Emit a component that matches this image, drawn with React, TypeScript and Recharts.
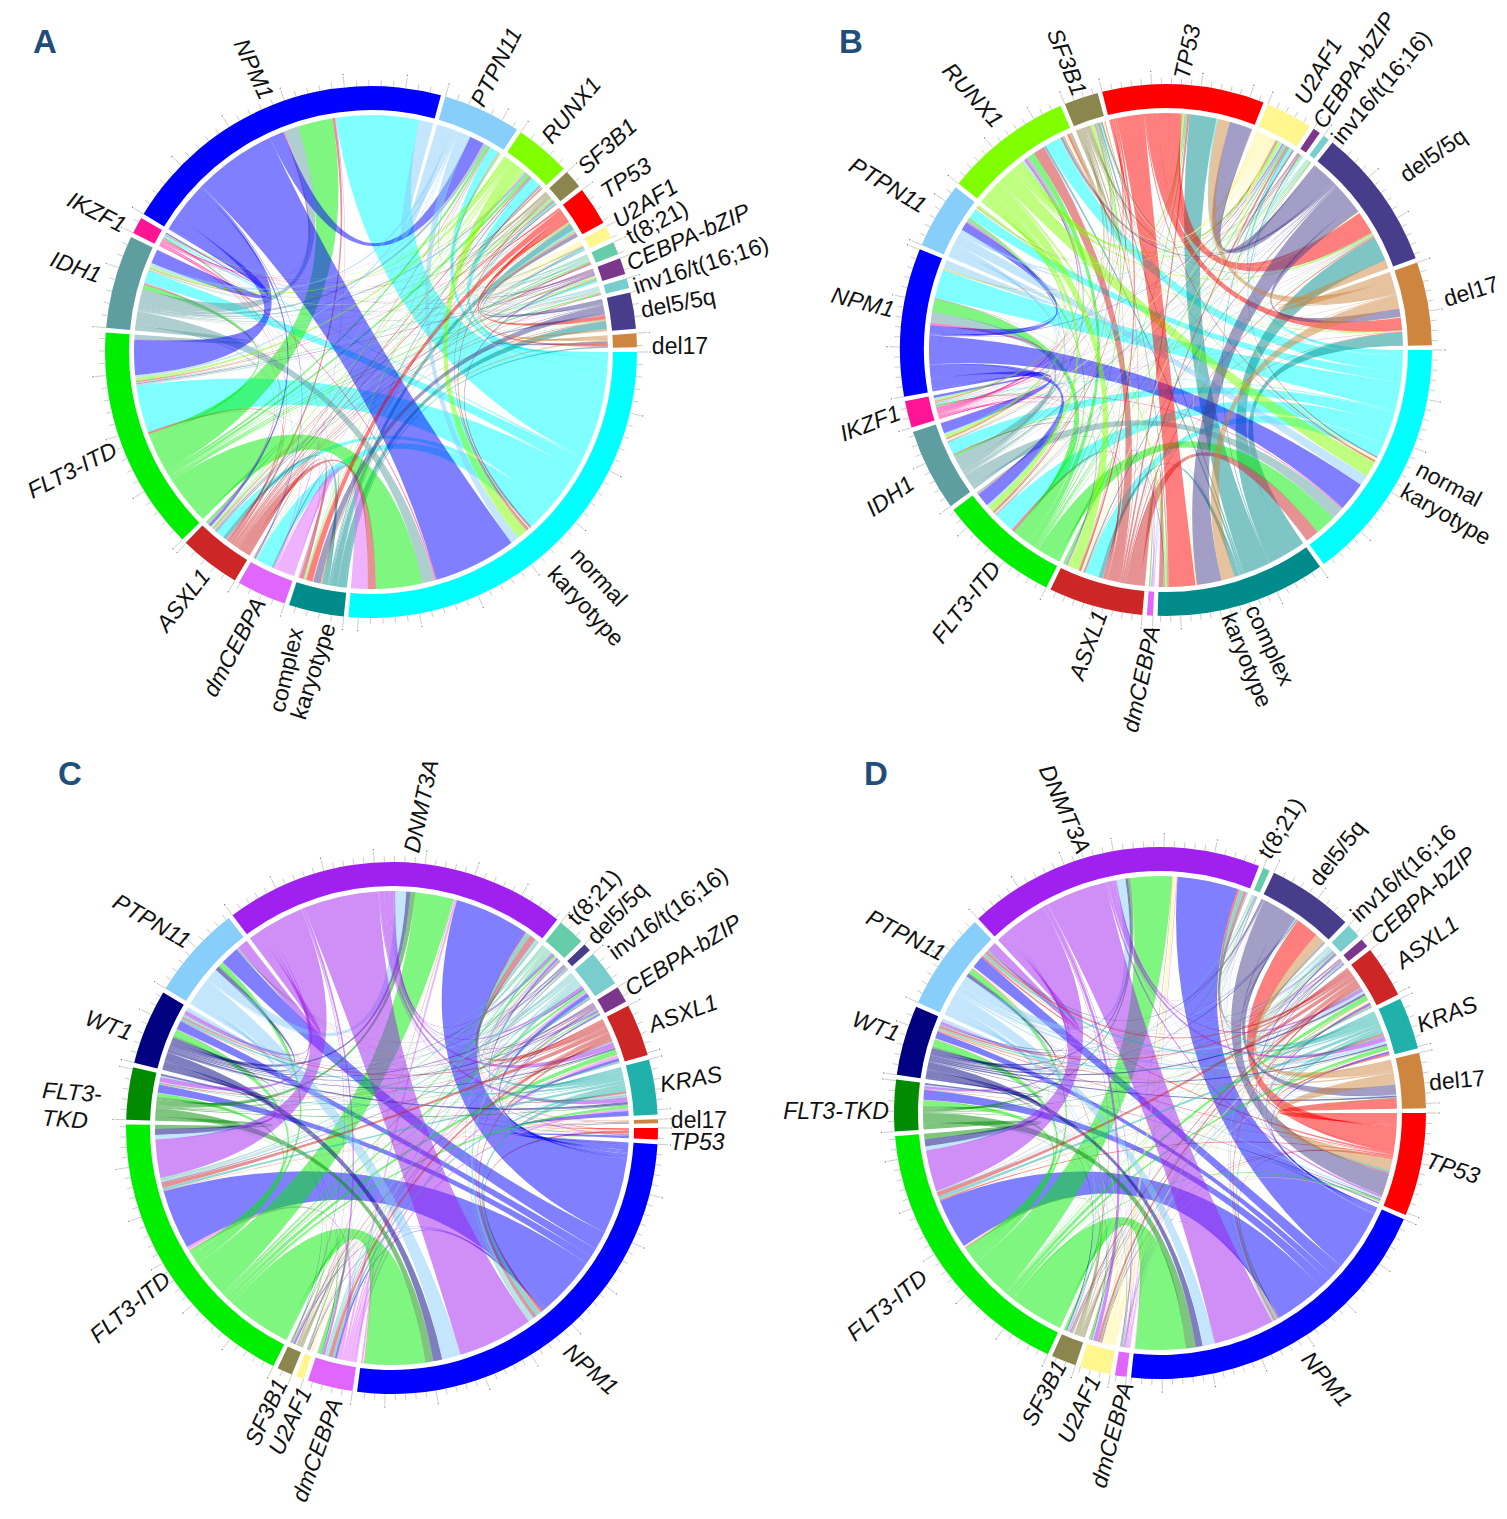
import { PieChart, Pie, Cell, Customized } from 'recharts';

type Link = [string, string, number];
type Label = [string, number, number, number];

const colors: Record<string, string> = {
  normal: '#00FFFF', complex: '#008B8B', dmCEBPA: '#E066FF', ASXL1: '#CD2626', 'FLT3-ITD': '#00EE00',
  IDH1: '#5F9EA0', IKZF1: '#FF1493', NPM1: '#0000FF', PTPN11: '#87CEFA', RUNX1: '#7FFF00',
  SF3B1: '#8B864E', TP53: '#FF0000', U2AF1: '#FFF68F', t821: '#66CDAA', bZIP: '#7A378B',
  inv16: '#79CDCD', del5: '#483D8B', del17: '#CD853F', DNMT3A: '#A020F0', WT1: '#000080',
  TKD: '#008B00', KRAS: '#20B2AA',
};

// clockwise from 3 o'clock
const sectorsA = ['normal', 'complex', 'dmCEBPA', 'ASXL1', 'FLT3-ITD', 'IDH1', 'IKZF1', 'NPM1', 'PTPN11', 'RUNX1', 'SF3B1', 'TP53', 'U2AF1', 't821', 'bZIP', 'inv16', 'del5', 'del17'];
const sectorsB = ['normal', 'complex', 'dmCEBPA', 'ASXL1', 'FLT3-ITD', 'IDH1', 'IKZF1', 'NPM1', 'PTPN11', 'RUNX1', 'SF3B1', 'TP53', 'U2AF1', 'bZIP', 'inv16', 'del5', 'del17'];
const sectorsC = ['TP53', 'NPM1', 'dmCEBPA', 'U2AF1', 'SF3B1', 'FLT3-ITD', 'TKD', 'WT1', 'PTPN11', 'DNMT3A', 't821', 'del5', 'inv16', 'bZIP', 'ASXL1', 'KRAS', 'del17'];
const sectorsD = sectorsC;

const linksA: Link[] = [
  ['normal', 'bZIP', 0.5], ['normal', 'U2AF1', 0.3], ['normal', 'TP53', 0.4], ['normal', 'SF3B1', 0.4],
  ['normal', 'RUNX1', 2.5], ['normal', 'PTPN11', 2], ['normal', 'NPM1', 20], ['normal', 'IKZF1', 0.4],
  ['normal', 'IDH1', 3], ['normal', 'FLT3-ITD', 11.3], ['normal', 'ASXL1', 2], ['normal', 'dmCEBPA', 4],
  ['NPM1', 'IKZF1', 0.3], ['NPM1', 'IDH1', 3.4], ['NPM1', 'FLT3-ITD', 8.5], ['NPM1', 'ASXL1', 0.6],
  ['NPM1', 'dmCEBPA', 0.2], ['NPM1', 'PTPN11', 3.5],
  ['FLT3-ITD', 'ASXL1', 0.5], ['FLT3-ITD', 'complex', 0.1], ['FLT3-ITD', 'TP53', 0.15], ['FLT3-ITD', 'SF3B1', 0.2],
  ['FLT3-ITD', 'RUNX1', 0.7], ['FLT3-ITD', 'PTPN11', 0.6], ['FLT3-ITD', 'IKZF1', 0.15], ['FLT3-ITD', 'IDH1', 1.1],
  ['FLT3-ITD', 't821', 0.3], ['FLT3-ITD', 'bZIP', 0.25], ['FLT3-ITD', 'inv16', 0.3], ['FLT3-ITD', 'del5', 0.05],
  ['IDH1', 'ASXL1', 0.3], ['IDH1', 'dmCEBPA', 0.2], ['IDH1', 'SF3B1', 0.2], ['IDH1', 'RUNX1', 0.5],
  ['IDH1', 'PTPN11', 0.8], ['IDH1', 'IKZF1', 0.1], ['IDH1', 'U2AF1', 0.2], ['IDH1', 'bZIP', 0.1],
  ['IDH1', 'inv16', 0.1], ['IDH1', 'del5', 0.05],
  ['IKZF1', 'RUNX1', 0.15], ['IKZF1', 'PTPN11', 0.1], ['IKZF1', 'ASXL1', 0.2], ['IKZF1', 'TP53', 0.1],
  ['IKZF1', 'complex', 0.1], ['IKZF1', 'bZIP', 0.05], ['IKZF1', 't821', 0.1], ['IKZF1', 'inv16', 0.05],
  ['PTPN11', 'RUNX1', 0.3], ['PTPN11', 'ASXL1', 0.2], ['PTPN11', 'dmCEBPA', 0.1], ['PTPN11', 'SF3B1', 0.1],
  ['PTPN11', 'bZIP', 0.1], ['PTPN11', 'inv16', 0.2], ['PTPN11', 't821', 0.3], ['PTPN11', 'complex', 0.1],
  ['RUNX1', 'SF3B1', 0.3], ['RUNX1', 'TP53', 0.2], ['RUNX1', 'U2AF1', 0.15], ['RUNX1', 'ASXL1', 0.35],
  ['RUNX1', 'complex', 0.3], ['RUNX1', 'dmCEBPA', 0.1], ['RUNX1', 'del5', 0.1], ['RUNX1', 'bZIP', 0.25],
  ['RUNX1', 't821', 0.05], ['RUNX1', 'inv16', 0.05],
  ['SF3B1', 'ASXL1', 0.3], ['SF3B1', 'complex', 0.2], ['SF3B1', 'TP53', 0.1], ['SF3B1', 'del5', 0.2],
  ['TP53', 'complex', 1.5], ['TP53', 'del5', 0.9], ['TP53', 'del17', 0.6], ['TP53', 'ASXL1', 0.1], ['TP53', 'U2AF1', 0.1],
  ['U2AF1', 'complex', 0.15], ['U2AF1', 'ASXL1', 0.1], ['U2AF1', 'del5', 0.1], ['U2AF1', 'bZIP', 0.1],
  ['U2AF1', 't821', 0.05], ['U2AF1', 'inv16', 0.1], ['t821', 'bZIP', 0.15], ['inv16', 'bZIP', 0.05],
  ['complex', 'del5', 1.8], ['complex', 'del17', 0.4], ['complex', 'ASXL1', 0.9], ['complex', 'dmCEBPA', 0.4],
  ['del5', 'del17', 0.5], ['del5', 'ASXL1', 0.2],
  ['ASXL1', 'bZIP', 0.2], ['ASXL1', 't821', 0.3], ['ASXL1', 'inv16', 0.15], ['ASXL1', 'dmCEBPA', 0.2],
  ['dmCEBPA', 't821', 0.1], ['dmCEBPA', 'inv16', 0.05],
];

const linksB: Link[] = [
  ['normal', 'U2AF1', 0.7], ['normal', 'TP53', 0.3], ['normal', 'SF3B1', 0.2], ['normal', 'RUNX1', 3.8],
  ['normal', 'PTPN11', 2.5], ['normal', 'NPM1', 7], ['normal', 'IKZF1', 0.3], ['normal', 'IDH1', 3],
  ['normal', 'FLT3-ITD', 5], ['normal', 'ASXL1', 3.3], ['normal', 'dmCEBPA', 0.1], ['normal', 'bZIP', 0.3],
  ['complex', 'del17', 3.2], ['complex', 'del5', 6], ['complex', 'TP53', 6.5], ['complex', 'U2AF1', 0.3],
  ['complex', 'SF3B1', 0.4], ['complex', 'RUNX1', 0.5], ['complex', 'NPM1', 0.1], ['complex', 'IKZF1', 0.1],
  ['complex', 'IDH1', 0.1], ['complex', 'FLT3-ITD', 0.1], ['complex', 'ASXL1', 1], ['complex', 'dmCEBPA', 0.1],
  ['TP53', 'del17', 3], ['TP53', 'del5', 5.5], ['TP53', 'ASXL1', 0.5], ['TP53', 'FLT3-ITD', 0.3],
  ['TP53', 'RUNX1', 0.5], ['TP53', 'SF3B1', 0.2], ['TP53', 'IDH1', 0.2], ['TP53', 'PTPN11', 0.05],
  ['TP53', 'NPM1', 0.05], ['TP53', 'U2AF1', 0.2], ['TP53', 'IKZF1', 0.1], ['TP53', 'bZIP', 0.1],
  ['del5', 'RUNX1', 0.5], ['del5', 'U2AF1', 0.4], ['del5', 'SF3B1', 0.3], ['del5', 'ASXL1', 0.3],
  ['del5', 'IDH1', 0.1], ['del5', 'FLT3-ITD', 0.1], ['del5', 'NPM1', 0.05], ['del5', 'del17', 2], ['del5', 'IKZF1', 0.1],
  ['del17', 'ASXL1', 0.2], ['del17', 'RUNX1', 0.2], ['del17', 'U2AF1', 0.2], ['del17', 'SF3B1', 0.1], ['del17', 'IKZF1', 0.1],
  ['U2AF1', 'RUNX1', 0.8], ['U2AF1', 'FLT3-ITD', 0.3], ['U2AF1', 'ASXL1', 0.5], ['U2AF1', 'IDH1', 0.5],
  ['U2AF1', 'NPM1', 0.2], ['U2AF1', 'PTPN11', 0.3], ['U2AF1', 'IKZF1', 0.1], ['U2AF1', 'SF3B1', 0.5], ['U2AF1', 'dmCEBPA', 0.05],
  ['RUNX1', 'SF3B1', 0.8], ['RUNX1', 'PTPN11', 0.6], ['RUNX1', 'NPM1', 0.2], ['RUNX1', 'IKZF1', 0.4],
  ['RUNX1', 'IDH1', 0.7], ['RUNX1', 'FLT3-ITD', 1.5], ['RUNX1', 'ASXL1', 2.8], ['RUNX1', 'bZIP', 0.2], ['RUNX1', 'inv16', 0.2], ['RUNX1', 'dmCEBPA', 0.1],
  ['ASXL1', 'FLT3-ITD', 0.6], ['ASXL1', 'IDH1', 0.2], ['ASXL1', 'IKZF1', 0.2], ['ASXL1', 'NPM1', 0.1],
  ['ASXL1', 'PTPN11', 0.1], ['ASXL1', 'SF3B1', 0.2], ['ASXL1', 'inv16', 0.1], ['ASXL1', 'dmCEBPA', 0.1],
  ['FLT3-ITD', 'NPM1', 3.2], ['FLT3-ITD', 'IDH1', 0.5], ['FLT3-ITD', 'PTPN11', 0.5], ['FLT3-ITD', 'IKZF1', 0.2],
  ['FLT3-ITD', 'SF3B1', 0.3], ['FLT3-ITD', 'bZIP', 0.1], ['FLT3-ITD', 'inv16', 0.2], ['FLT3-ITD', 'dmCEBPA', 0.1],
  ['IDH1', 'NPM1', 2.5], ['IDH1', 'PTPN11', 0.5], ['IDH1', 'IKZF1', 0.1], ['IDH1', 'SF3B1', 0.2], ['IDH1', 'bZIP', 0.1], ['IDH1', 'inv16', 0.1], ['IDH1', 'dmCEBPA', 0.1],
  ['IKZF1', 'NPM1', 0.6], ['IKZF1', 'PTPN11', 0.3], ['IKZF1', 'SF3B1', 0.3],
  ['NPM1', 'PTPN11', 2],
  ['PTPN11', 'SF3B1', 0.2], ['PTPN11', 'inv16', 0.1],
];

const linksC: Link[] = [
  ['NPM1', 'DNMT3A', 18.5], ['NPM1', 'PTPN11', 4.6], ['NPM1', 'WT1', 2.2], ['NPM1', 'TKD', 2], ['NPM1', 'FLT3-ITD', 14.7],
  ['NPM1', 'KRAS', 1.2], ['NPM1', 'ASXL1', 0.6], ['NPM1', 'bZIP', 0.3], ['NPM1', 'inv16', 1], ['NPM1', 't821', 0.4],
  ['NPM1', 'del5', 0.05], ['NPM1', 'TP53', 0.6], ['NPM1', 'del17', 0.1], ['NPM1', 'dmCEBPA', 0.5], ['NPM1', 'SF3B1', 0.3], ['NPM1', 'U2AF1', 0.2],
  ['DNMT3A', 'PTPN11', 2.7], ['DNMT3A', 'WT1', 1], ['DNMT3A', 'TKD', 1.2], ['DNMT3A', 'FLT3-ITD', 9.4], ['DNMT3A', 'dmCEBPA', 0.6],
  ['DNMT3A', 'TP53', 0.2], ['DNMT3A', 'KRAS', 1.1], ['DNMT3A', 'ASXL1', 1.3], ['DNMT3A', 'bZIP', 0.3], ['DNMT3A', 'inv16', 0.6],
  ['DNMT3A', 'del5', 0.1], ['DNMT3A', 't821', 0.4], ['DNMT3A', 'SF3B1', 0.2], ['DNMT3A', 'U2AF1', 0.1], ['DNMT3A', 'del17', 0.1],
  ['FLT3-ITD', 'TP53', 0.1], ['FLT3-ITD', 'KRAS', 0.7], ['FLT3-ITD', 'ASXL1', 1.1], ['FLT3-ITD', 'bZIP', 0.3], ['FLT3-ITD', 'inv16', 0.6],
  ['FLT3-ITD', 't821', 0.4], ['FLT3-ITD', 'PTPN11', 1.1], ['FLT3-ITD', 'WT1', 1.5], ['FLT3-ITD', 'TKD', 1], ['FLT3-ITD', 'SF3B1', 0.3],
  ['FLT3-ITD', 'U2AF1', 0.15], ['FLT3-ITD', 'dmCEBPA', 0.8], ['FLT3-ITD', 'del5', 0.1], ['FLT3-ITD', 'del17', 0.05],
  ['TKD', 'WT1', 0.5], ['TKD', 'PTPN11', 0.3], ['TKD', 'ASXL1', 0.2], ['TKD', 'KRAS', 0.2], ['TKD', 'inv16', 0.1], ['TKD', 't821', 0.1], ['TKD', 'bZIP', 0.05], ['TKD', 'dmCEBPA', 0.1],
  ['WT1', 'PTPN11', 1], ['WT1', 'ASXL1', 0.3], ['WT1', 'KRAS', 0.6], ['WT1', 'inv16', 0.3], ['WT1', 't821', 0.2], ['WT1', 'bZIP', 0.2],
  ['WT1', 'TP53', 0.1], ['WT1', 'SF3B1', 0.1], ['WT1', 'dmCEBPA', 0.1], ['WT1', 'U2AF1', 0.05], ['WT1', 'del5', 0.1],
  ['PTPN11', 'ASXL1', 0.1], ['PTPN11', 'KRAS', 0.1], ['PTPN11', 'bZIP', 0.05], ['PTPN11', 'inv16', 0.05], ['PTPN11', 't821', 0.1], ['PTPN11', 'dmCEBPA', 0.1], ['PTPN11', 'del5', 0.1],
  ['ASXL1', 'KRAS', 0.4], ['ASXL1', 'dmCEBPA', 0.8], ['ASXL1', 't821', 0.2], ['ASXL1', 'inv16', 0.1], ['ASXL1', 'bZIP', 0.1],
  ['ASXL1', 'SF3B1', 0.2], ['ASXL1', 'U2AF1', 0.1], ['ASXL1', 'TP53', 0.1], ['ASXL1', 'del17', 0.05], ['ASXL1', 'del5', 0.1],
  ['KRAS', 'dmCEBPA', 0.6], ['KRAS', 'inv16', 0.5], ['KRAS', 't821', 0.3], ['KRAS', 'bZIP', 0.1], ['KRAS', 'TP53', 0.05], ['KRAS', 'del5', 0.1], ['KRAS', 'SF3B1', 0.1],
  ['dmCEBPA', 'inv16', 0.5], ['dmCEBPA', 't821', 0.4], ['dmCEBPA', 'bZIP', 0.2], ['dmCEBPA', 'SF3B1', 0.2], ['dmCEBPA', 'del5', 0.05],
  ['inv16', 'bZIP', 0.1], ['inv16', 't821', 0.1], ['inv16', 'del5', 0.05],
  ['t821', 'bZIP', 0.1], ['t821', 'del5', 0.1], ['t821', 'SF3B1', 0.1], ['t821', 'U2AF1', 0.05], ['t821', 'del17', 0.05],
  ['SF3B1', 'U2AF1', 0.2], ['TP53', 'del17', 0.1],
];

const linksD: Link[] = [
  ['NPM1', 'DNMT3A', 14.8], ['NPM1', 'PTPN11', 3], ['NPM1', 'WT1', 1.7], ['NPM1', 'TKD', 2.4], ['NPM1', 'FLT3-ITD', 12.2],
  ['NPM1', 'ASXL1', 0.4], ['NPM1', 'TP53', 0.3], ['NPM1', 'KRAS', 0.5], ['NPM1', 'del5', 0.05], ['NPM1', 'inv16', 0.3],
  ['NPM1', 'bZIP', 0.2], ['NPM1', 't821', 0.05], ['NPM1', 'dmCEBPA', 0.1], ['NPM1', 'U2AF1', 0.1], ['NPM1', 'SF3B1', 0.05],
  ['DNMT3A', 'PTPN11', 2.2], ['DNMT3A', 'WT1', 0.6], ['DNMT3A', 'TKD', 0.6], ['DNMT3A', 'FLT3-ITD', 10], ['DNMT3A', 'U2AF1', 1],
  ['DNMT3A', 'TP53', 0.5], ['DNMT3A', 'KRAS', 1], ['DNMT3A', 'ASXL1', 0.6], ['DNMT3A', 'del5', 0.1], ['DNMT3A', 'inv16', 0.2],
  ['DNMT3A', 'bZIP', 0.1], ['DNMT3A', 't821', 0.1], ['DNMT3A', 'SF3B1', 0.2], ['DNMT3A', 'del17', 0.1], ['DNMT3A', 'dmCEBPA', 0.2],
  ['FLT3-ITD', 'PTPN11', 1], ['FLT3-ITD', 'WT1', 1.7], ['FLT3-ITD', 'TKD', 1.4], ['FLT3-ITD', 'U2AF1', 0.3], ['FLT3-ITD', 'SF3B1', 0.5],
  ['FLT3-ITD', 'TP53', 0.3], ['FLT3-ITD', 'ASXL1', 1], ['FLT3-ITD', 'KRAS', 0.8], ['FLT3-ITD', 'del17', 0.1], ['FLT3-ITD', 'del5', 0.1],
  ['FLT3-ITD', 'inv16', 0.2], ['FLT3-ITD', 'bZIP', 0.1], ['FLT3-ITD', 't821', 0.05], ['FLT3-ITD', 'dmCEBPA', 0.1],
  ['TKD', 'WT1', 0.4], ['TKD', 'PTPN11', 0.3], ['TKD', 'ASXL1', 0.1], ['TKD', 'KRAS', 0.1], ['TKD', 'TP53', 0.1], ['TKD', 'U2AF1', 0.1], ['TKD', 'SF3B1', 0.1],
  ['WT1', 'PTPN11', 0.8], ['WT1', 'ASXL1', 0.5], ['WT1', 'KRAS', 0.4], ['WT1', 'TP53', 0.2], ['WT1', 'inv16', 0.1], ['WT1', 'del5', 0.2],
  ['WT1', 'del17', 0.4], ['WT1', 'U2AF1', 0.1], ['WT1', 'SF3B1', 0.2], ['WT1', 'dmCEBPA', 0.1], ['WT1', 'bZIP', 0.1], ['WT1', 't821', 0.1],
  ['PTPN11', 'ASXL1', 0.6], ['PTPN11', 'KRAS', 0.7], ['PTPN11', 'TP53', 0.4], ['PTPN11', 'del5', 0.3], ['PTPN11', 'U2AF1', 0.3],
  ['PTPN11', 'SF3B1', 0.4], ['PTPN11', 'del17', 0.2], ['PTPN11', 'inv16', 0.1], ['PTPN11', 'dmCEBPA', 0.1], ['PTPN11', 'bZIP', 0.1], ['PTPN11', 't821', 0.1],
  ['TP53', 'del17', 2.7], ['TP53', 'del5', 5.6], ['TP53', 'ASXL1', 0.3], ['TP53', 'KRAS', 0.4], ['TP53', 'U2AF1', 0.2], ['TP53', 'SF3B1', 0.1], ['TP53', 'inv16', 0.05], ['TP53', 'dmCEBPA', 0.05],
  ['del5', 'del17', 2.3], ['del5', 'ASXL1', 0.3], ['del5', 'KRAS', 0.3], ['del5', 'U2AF1', 0.05], ['del5', 't821', 0.05],
  ['del17', 'ASXL1', 0.1], ['del17', 'KRAS', 0.1],
  ['KRAS', 'ASXL1', 0.5], ['KRAS', 'U2AF1', 0.3], ['KRAS', 'SF3B1', 0.2], ['KRAS', 'bZIP', 0.1], ['KRAS', 'dmCEBPA', 0.1], ['KRAS', 'inv16', 0.1], ['KRAS', 't821', 0.05],
  ['ASXL1', 'SF3B1', 0.3], ['ASXL1', 'U2AF1', 0.6], ['ASXL1', 'inv16', 0.1], ['ASXL1', 'bZIP', 0.1], ['ASXL1', 'dmCEBPA', 0.1], ['ASXL1', 't821', 0.05],
  ['SF3B1', 'U2AF1', 0.3], ['SF3B1', 'dmCEBPA', 0.2], ['SF3B1', 'inv16', 0.1], ['SF3B1', 't821', 0.05],
  ['dmCEBPA', 'inv16', 0.1], ['dmCEBPA', 'bZIP', 0.05], ['dmCEBPA', 't821', 0.05],
  ['inv16', 'bZIP', 0.1], ['inv16', 't821', 0.1],
];

// text, centre x, centre y, rotation
const labelsA: Label[] = [
  ['NPM1', 254, 69, 65], ['PTPN11', 496, 67, -63], ['RUNX1', 571, 110, -50], ['SF3B1', 607, 146, -42],
  ['TP53', 626, 178, -33], ['U2AF1', 645, 203, -32], ['t(8;21)', 657, 222, -28], ['CEBPA-bZIP', 688, 237, -24],
  ['inv16/t(16;16)', 701, 265, -18], ['del5/5q', 678, 303, -11], ['del17', 680, 346, 0],
  ['normal', 599, 577, 47], ['karyotype', 586, 606, 47], ['complex', 286, 670, -77], ['karyotype', 313, 671, -72],
  ['dmCEBPA', 234, 647, -62], ['ASXL1', 183, 600, -52], ['FLT3-ITD', 72, 470, -27], ['IDH1', 76, 267, 20], ['IKZF1', 97, 212, 27],
];
const labelsB: Label[] = [
  ['TP53', 1187, 52, -78], ['U2AF1', 1318, 71, -60], ['CEBPA-bZIP', 1354, 70, -57], ['inv16/t(16;16)', 1381, 87, -50],
  ['del5/5q', 1433, 155, -35], ['del17', 1471, 291, -17], ['normal', 1449, 484, 28], ['karyotype', 1446, 514, 30],
  ['complex', 1270, 645, 65], ['karyotype', 1247, 660, 68], ['dmCEBPA', 1141, 679, -78], ['ASXL1', 1088, 645, -70],
  ['FLT3-ITD', 966, 602, -52], ['IDH1', 890, 496, -35], ['IKZF1', 870, 423, -21], ['NPM1', 863, 302, 14],
  ['PTPN11', 888, 185, 31], ['RUNX1', 973, 95, 48], ['SF3B1', 1067, 62, 68],
];
const labelsC: Label[] = [
  ['DNMT3A', 421, 806, -78], ['t(8;21)', 594, 897, -47], ['del5/5q', 617, 913, -46], ['inv16/t(16;16)', 668, 913, -36],
  ['CEBPA-bZIP', 683, 955, -32], ['ASXL1', 683, 1013, -20], ['KRAS', 691, 1079, -10], ['del17', 699, 1120, 0],
  ['TP53', 697, 1142, 0], ['NPM1', 591, 1369, 42], ['dmCEBPA', 317, 1450, -70], ['U2AF1', 290, 1421, -65],
  ['SF3B1', 266, 1412, -65], ['FLT3-ITD', 130, 1307, -40], ['FLT3-', 72, 1092, 4], ['TKD', 65, 1119, 4],
  ['WT1', 109, 1025, 20], ['PTPN11', 152, 921, 30],
];
const labelsD: Label[] = [
  ['DNMT3A', 1065, 809, 66], ['t(8;21)', 1281, 828, -58], ['del5/5q', 1337, 853, -52], ['inv16/t(16;16', 1403, 873, -42],
  ['CEBPA-bZIP', 1423, 895, -42], ['ASXL1', 1427, 942, -36], ['KRAS', 1447, 1014, -21], ['del17', 1457, 1080, -5],
  ['TP53', 1453, 1168, 18], ['NPM1', 1327, 1379, 50], ['dmCEBPA', 1112, 1435, -75], ['U2AF1', 1079, 1409, -65],
  ['SF3B1', 1044, 1393, -62], ['FLT3-ITD', 887, 1305, -40], ['FLT3-TKD', 836, 1111, 0], ['WT1', 876, 1026, 20], ['PTPN11', 906, 935, 27],
];

const panels = [
  { letter: 'A', lx: 45, ly: 41, cx: 371, cy: 352, tickDeg: 2.65, sectors: sectorsA, links: linksA, labels: labelsA },
  { letter: 'B', lx: 851, ly: 41, cx: 1166, cy: 350, tickDeg: 2.15, sectors: sectorsB, links: linksB, labels: labelsB },
  { letter: 'C', lx: 70, ly: 773, cx: 392, cy: 1128, tickDeg: 2.2, sectors: sectorsC, links: linksC, labels: labelsC },
  { letter: 'D', lx: 876, ly: 773, cx: 1160, cy: 1113, tickDeg: 2.2, sectors: sectorsD, links: linksD, labels: labelsD },
];

const plainLabels = ['del17', 'del5/5q', 'inv16/t(16;16)', 'inv16/t(16;16', 't(8;21)', 'normal', 'karyotype', 'complex'];

const OUTER = 266;
const INNER = 242;
const LINK_R = 237;
const PAD = 1;

const rad = (d: number) => (d * Math.PI) / 180;

function sectorValues(sectors: string[], links: Link[]) {
  return sectors.map((s) => links.reduce((t, l) => t + (l[0] === s || l[1] === s ? 2 * l[2] : 0), 0));
}

function layout(sectors: string[], links: Link[]) {
  const values = sectorValues(sectors, links);
  const total = values.reduce((a, b) => a + b, 0);
  const scale = (360 - sectors.length * PAD) / total;
  const n = sectors.length;
  const weight = (a: string, b: string) =>
    links.reduce((t, l) => t + ((l[0] === a && l[1] === b) || (l[0] === b && l[1] === a) ? l[2] : 0), 0);

  const arcs: { start: number; end: number }[] = [];
  let pos = 0;
  values.forEach((v) => {
    arcs.push({ start: pos, end: pos + v * scale });
    pos += v * scale + PAD;
  });

  // every sector: own ribbons first, then the incoming ones, partners walking back counter-clockwise
  const outSlot: Record<string, [number, number]> = {};
  const inSlot: Record<string, [number, number]> = {};
  sectors.forEach((s, i) => {
    let cur = arcs[i].start;
    for (const slots of [outSlot, inSlot]) {
      for (let k = 1; k < n; k++) {
        const other = sectors[(i - k + n) % n];
        const w = weight(s, other) * scale;
        if (w > 0) {
          slots[s + '|' + other] = [cur, cur + w];
          cur += w;
        }
      }
    }
  });

  const ribbons: { color: string; a: [number, number]; b: [number, number] }[] = [];
  sectors.forEach((s) => {
    sectors.forEach((o) => {
      const a = outSlot[s + '|' + o];
      if (a) ribbons.push({ color: colors[s], a, b: inSlot[o + '|' + s] });
    });
  });
  return { arcs, ribbons };
}

function ribbonPath(cx: number, cy: number, a: [number, number], b: [number, number]) {
  const pt = (d: number) => `${(cx + LINK_R * Math.cos(rad(d))).toFixed(2)} ${(cy + LINK_R * Math.sin(rad(d))).toFixed(2)}`;
  const arc = (d: number) => `A${LINK_R} ${LINK_R} 0 0 1 ${pt(d)}`;
  return `M${pt(a[0])} ${arc(a[1])} Q${cx} ${cy} ${pt(b[0])} ${arc(b[1])} Q${cx} ${cy} ${pt(a[0])}Z`;
}

function PanelLayer({ panel }: { panel: (typeof panels)[number] }) {
  const { arcs, ribbons } = layout(panel.sectors, panel.links);
  const { cx, cy, tickDeg } = panel;
  const ticks: { d: number; major: boolean }[] = [];
  arcs.forEach((arc) => {
    let k = 0;
    for (let d = arc.start; d <= arc.end; d += tickDeg) {
      ticks.push({ d, major: k % 5 === 0 });
      k++;
    }
  });
  return (
    <g>
      {ribbons.map((r, i) => (
        <path key={i} d={ribbonPath(cx, cy, r.a, r.b)} fill={r.color} fillOpacity={0.5} stroke="none" />
      ))}
      {ticks.map((t, i) => {
        const len = t.major ? 11 : 6;
        const c = Math.cos(rad(t.d));
        const s = Math.sin(rad(t.d));
        return (
          <g key={i}>
            <line
              x1={cx + OUTER * c}
              y1={cy + OUTER * s}
              x2={cx + (OUTER + len) * c}
              y2={cy + (OUTER + len) * s}
              stroke="#aaa"
              strokeWidth={0.6}
            />
            {t.major && <circle cx={cx + (OUTER + len + 2) * c} cy={cy + (OUTER + len + 2) * s} r={0.7} fill="#777" />}
          </g>
        );
      })}
      {panel.labels.map(([text, x, y, rot], i) => (
        <text
          key={i}
          x={x}
          y={y}
          textAnchor="middle"
          dominantBaseline="central"
          transform={`rotate(${rot} ${x} ${y})`}
          fontFamily="'Liberation Sans', Arial, sans-serif"
          fontSize={23}
          fontStyle={plainLabels.includes(text) ? 'normal' : 'italic'}
          fill="#111"
        >
          {text}
        </text>
      ))}
      <text
        x={panel.lx}
        y={panel.ly}
        textAnchor="middle"
        dominantBaseline="central"
        fontFamily="'Liberation Sans', Arial, sans-serif"
        fontWeight="bold"
        fontSize={33}
        fill="#1F4E79"
      >
        {panel.letter}
      </text>
    </g>
  );
}

export default function App() {
  return (
    <div style={{ position: 'absolute', left: 0, top: 0, width: 1507, height: 1519, background: '#fff' }}>
      <PieChart width={1507} height={1519} margin={{ top: 0, right: 0, bottom: 0, left: 0 }}>
        {panels.map((p) => {
          const values = sectorValues(p.sectors, p.links);
          const data = p.sectors.map((name, i) => ({ name, value: values[i] }));
          return (
            <Pie
              key={p.letter}
              data={data}
              dataKey="value"
              cx={p.cx}
              cy={p.cy}
              innerRadius={INNER}
              outerRadius={OUTER}
              startAngle={0}
              endAngle={-360}
              paddingAngle={PAD}
              stroke="none"
              isAnimationActive={false}
              label={false}
              labelLine={false}
            >
              {data.map((d) => (
                <Cell key={d.name} fill={colors[d.name]} />
              ))}
            </Pie>
          );
        })}
        {panels.map((p) => (
          <Customized key={p.letter} component={<PanelLayer panel={p} />} />
        ))}
      </PieChart>
    </div>
  );
}
